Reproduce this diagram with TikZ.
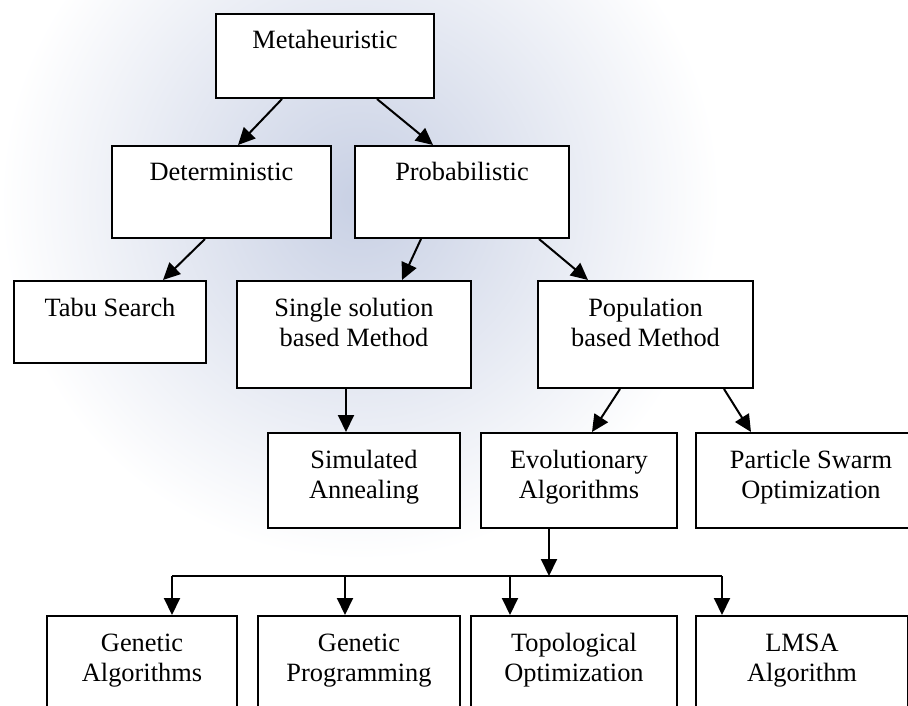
\documentclass[tikz,border=0pt]{standalone}
\usepackage{fontspec}
\setmainfont{Liberation Serif}
\usepackage{tikz}
\usetikzlibrary{arrows.meta}

\definecolor{globe}{RGB}{200,208,228}

\begin{document}
\begin{tikzpicture}[
x=1pt, y=-1pt,
box/.style={draw, fill=white, line width=2pt, inner sep=0pt, anchor=north west,
  align=center, text height=35pt, font=\fontsize{26.4}{30.5}\selectfont},
twoline/.style={box, text height=65.5pt},
arrow/.style={line width=2pt, -{Triangle[length=17pt,width=16pt]}},
]

\clip (0,0) rectangle (908,706);
\shade[inner color=globe, outer color=white] (360,200) circle (360);

\node[box, minimum width=218pt, text depth=49pt] (meta) at (215,13) {Metaheuristic};
\node[box, minimum width=219pt, text depth=57pt] (det) at (111,145) {Deterministic};
\node[box, minimum width=214pt, text depth=57pt] (prob) at (354,145) {Probabilistic};
\node[box, minimum width=192pt, text depth=47pt] (tabu) at (13,280) {Tabu Search};
\node[twoline, minimum width=234pt, text depth=41.5pt] (single) at (236,280) {Single solution\\based Method};
\node[twoline, minimum width=215pt, text depth=41.5pt] (pop) at (537,280) {Population\\based Method};
\node[twoline, minimum width=192pt, text depth=29.5pt] (sim) at (267,432) {Simulated\\Annealing};
\node[twoline, minimum width=196pt, text depth=29.5pt] (evo) at (480,432) {Evolutionary\\Algorithms};
\node[twoline, minimum width=230pt, text depth=29.5pt] (pso) at (695,432) {Particle Swarm\\Optimization};
\node[twoline, minimum width=190pt, text depth=54.5pt] (ga) at (46,615) {Genetic\\Algorithms};
\node[twoline, minimum width=202pt, text depth=54.5pt] (gp) at (257,615) {Genetic\\Programming};
\node[twoline, minimum width=206pt, text depth=54.5pt] (topo) at (470,615) {Topological\\Optimization};
\node[twoline, minimum width=212pt, text depth=54.5pt] (lmsa) at (695,615) {LMSA\\Algorithm};

\coordinate (bus) at (549,576);
\coordinate (busA) at (172,576);
\coordinate (busB) at (345,576);
\coordinate (busC) at (510,576);
\coordinate (busD) at (722,576);

\path[every edge/.style={draw, arrow}]
([xshift=-43pt]meta.south) edge ([xshift=16.5pt]det.north)
([xshift=52pt]meta.south) edge ([xshift=-29pt]prob.north)
([xshift=-16.5pt]det.south) edge ([xshift=53pt]tabu.north)
([xshift=-41pt]prob.south) edge ([xshift=48pt]single.north)
([xshift=77pt]prob.south) edge ([xshift=-57.5pt]pop.north)
([xshift=-8pt]single.south) edge ([xshift=-18pt]sim.north)
([xshift=-25.5pt]pop.south) edge ([xshift=13pt]evo.north)
([xshift=78.5pt]pop.south) edge ([xshift=-60pt]pso.north)
(bus |- evo.south) edge (bus)
;

\draw[line width=2pt] (busA) -- (busD);
\path[every edge/.style={draw, arrow}]
(busA) edge (busA |- ga.north)
(busB) edge (busB |- gp.north)
(busC) edge (busC |- topo.north)
(busD) edge (busD |- lmsa.north)
;
\end{tikzpicture}
\end{document}
